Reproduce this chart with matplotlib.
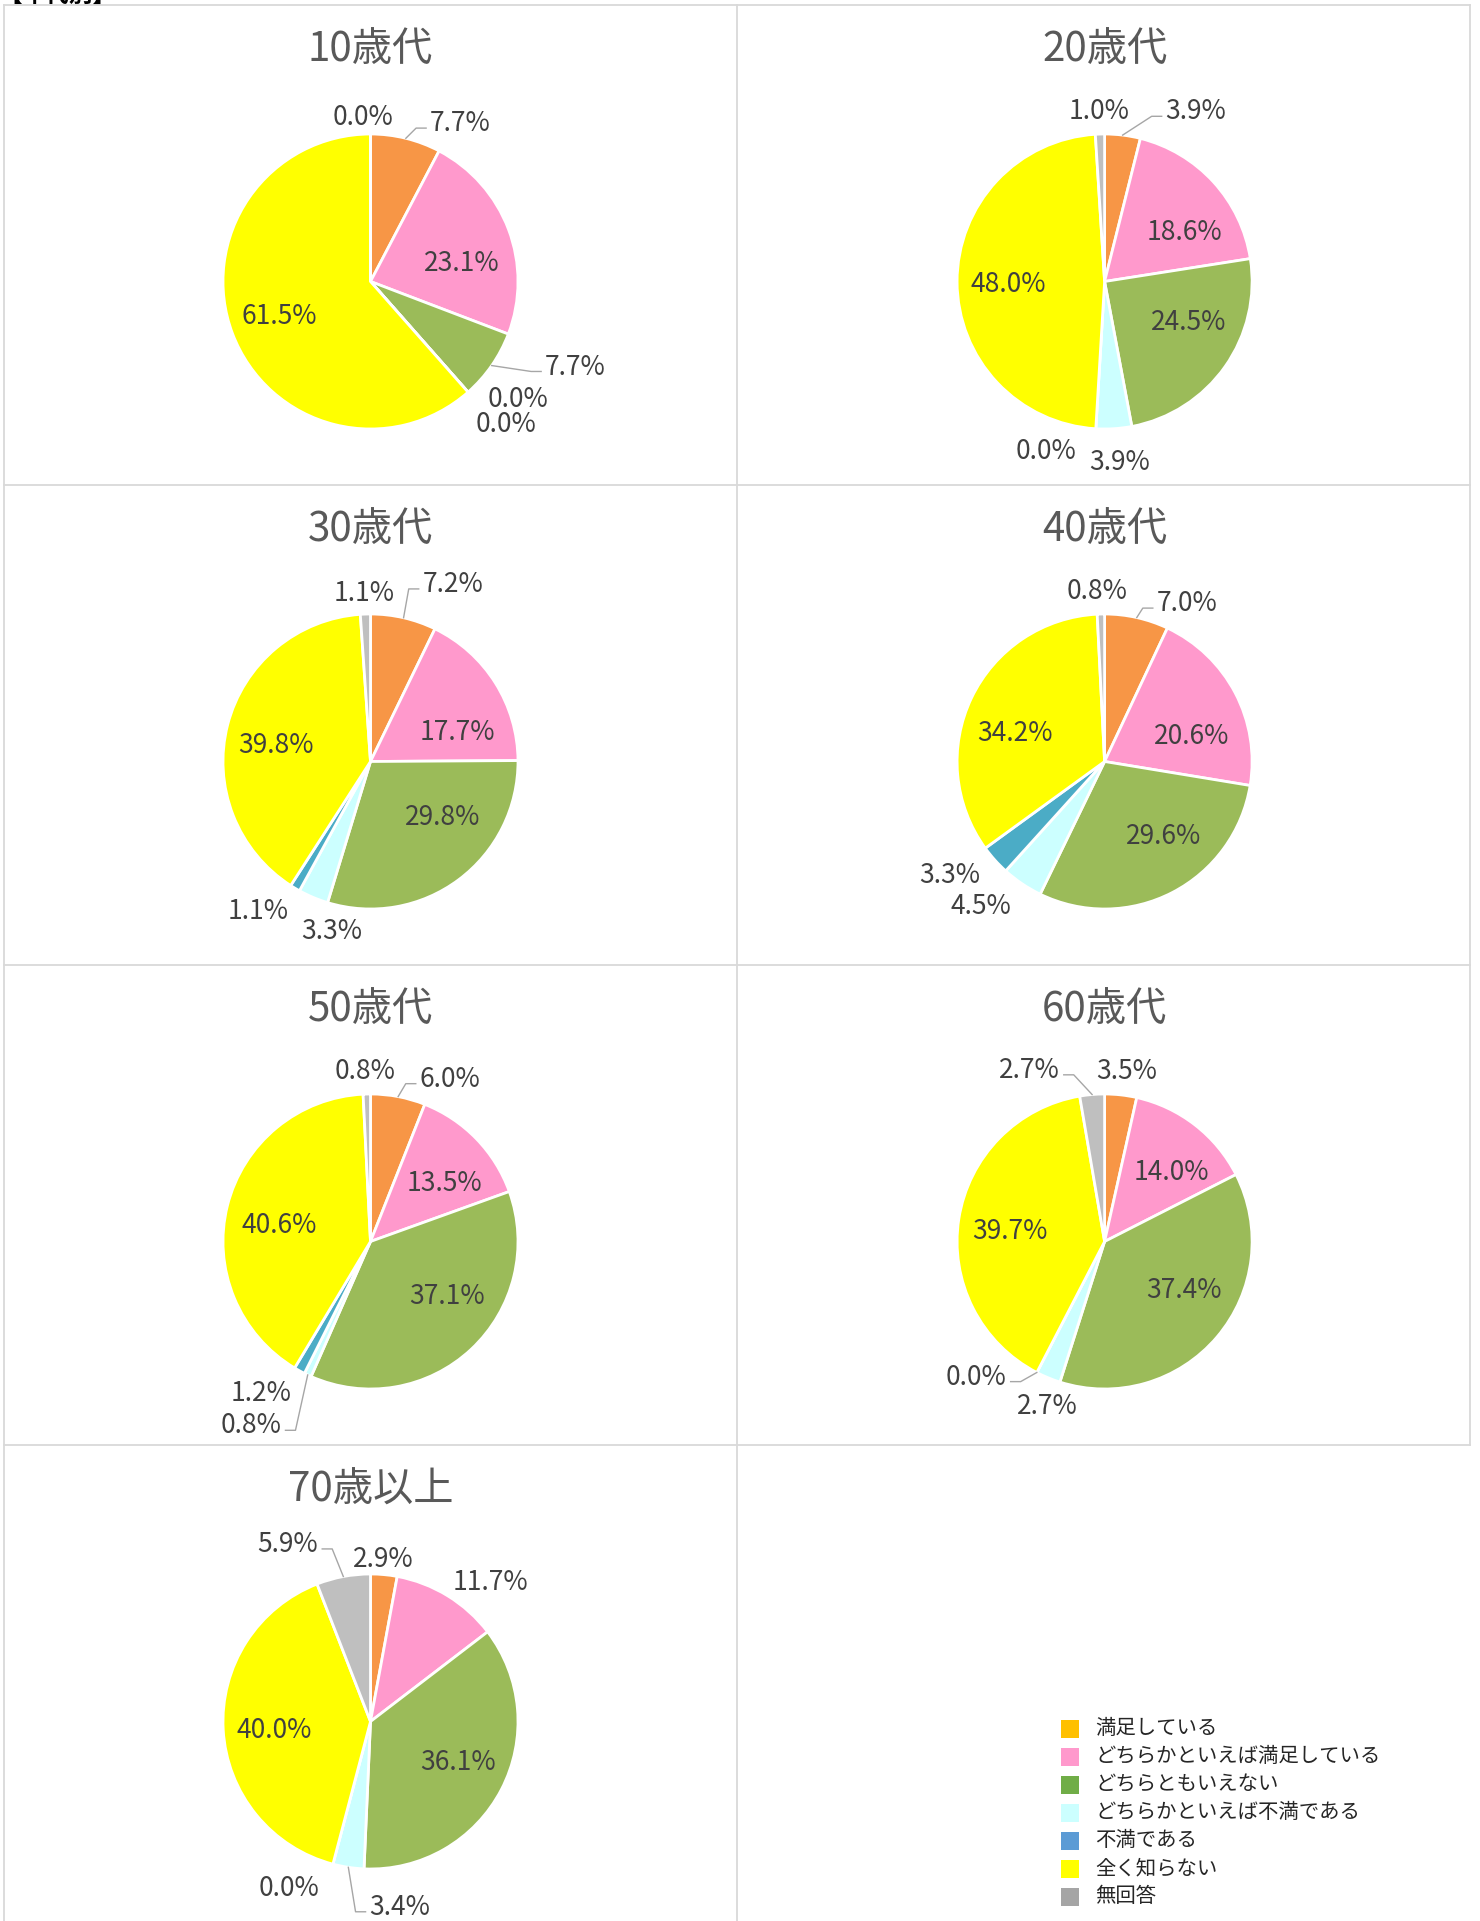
import matplotlib
matplotlib.use('Agg')
import matplotlib.pyplot as plt
from matplotlib.lines import Line2D
from matplotlib.patches import Rectangle
import numpy as np

plt.rcParams['font.family'] = ['Noto Sans CJK JP', 'DejaVu Sans']

# ---------------- data ----------------
categories = ['満足している', 'どちらかといえば満足している', 'どちらともいえない',
              'どちらかといえば不満である', '不満である', '全く知らない', '無回答']
age_groups = ['10歳代', '20歳代', '30歳代', '40歳代', '50歳代', '60歳代', '70歳以上']

v10 = [7.7, 23.1, 7.7, 0.0, 0.0, 61.5, 0.0]
v20 = [3.9, 18.6, 24.5, 3.9, 0.0, 48.0, 1.0]
v30 = [7.2, 17.7, 29.8, 3.3, 1.1, 39.8, 1.1]
v40 = [7.0, 20.6, 29.6, 4.5, 3.3, 34.2, 0.8]
v50 = [6.0, 13.5, 37.1, 0.8, 1.2, 40.6, 0.8]
v60 = [3.5, 14.0, 37.4, 2.7, 0.0, 39.7, 2.7]
v70 = [2.9, 11.7, 36.1, 3.4, 0.0, 40.0, 5.9]
values = [v10, v20, v30, v40, v50, v60, v70]

pie_colors = ['#F79646', '#FF99CC', '#9BBB59', '#CCFFFF', '#4BACC6', '#FFFF00', '#BFBFBF']
legend_colors = ['#FFC000', '#FF99CC', '#70AD47', '#CCFFFF', '#5B9BD5', '#FFFF00', '#A5A5A5']

# ---------------- layout (label centres in pie-radius units) ----------------
label_pos = {
    '10歳代': [(0.61, 1.07), (0.62, 0.12), (1.39, -0.58), (1.00, -0.80), (0.92, -0.97), (-0.62, -0.24), (-0.05, 1.11)],
    '20歳代': [(0.62, 1.15), (0.54, 0.33), (0.57, -0.28), (0.10, -1.23), (-0.40, -1.15), (-0.65, -0.02), (-0.04, 1.15)],
    '30歳代': [(0.56, 1.20), (0.59, 0.20), (0.49, -0.38), (-0.26, -1.15), (-0.76, -1.02), (-0.64, 0.11), (-0.04, 1.14)],
    '40歳代': [(0.56, 1.07), (0.59, 0.17), (0.40, -0.51), (-0.84, -0.98), (-1.05, -0.77), (-0.61, 0.19), (-0.05, 1.15)],
    '50歳代': [(0.54, 1.10), (0.50, 0.39), (0.52, -0.37), (-0.81, -1.25), (-0.74, -1.03), (-0.62, 0.11), (-0.04, 1.15)],
    '60歳代': [(0.15, 1.15), (0.45, 0.47), (0.54, -0.33), (-0.39, -1.12), (-0.87, -0.92), (-0.64, 0.07), (-0.51, 1.16)],
    '70歳以上': [(0.09, 1.10), (0.81, 0.94), (0.59, -0.28), (0.20, -1.26), (-0.55, -1.13), (-0.65, -0.06), (-0.56, 1.20)],
}
leaders = {
    '10歳代': {0: 'L', 2: 'L'},
    '20歳代': {0: 'L'},
    '30歳代': {0: 'L'},
    '40歳代': {0: 'L'},
    '50歳代': {0: 'L', 3: 'R'},
    '60歳代': {6: 'R', 4: 'R'},
    '70歳以上': {6: 'R', 3: 'L'},
}

W, H, DPI = 1480, 1921, 100
R = 147.5                     # pie radius in px
col_x = [370.5, 1104.6]       # pie centres (px from left)
panel_top = [5, 485, 965, 1445]
pie_dy = 276.5                # pie centre below panel top
EXT = 1.6

fig = plt.figure(figsize=(W / DPI, H / DPI), dpi=DPI)
fig.patch.set_facecolor('white')


def fx(px):
    return px / W


def fy(py_top):
    return 1 - py_top / H


# panel borders
bc = '#D9D9D9'
blw = 1.3
xl, xm, xr = 4, 737, 1470
for y in panel_top:
    fig.add_artist(Line2D([fx(xl), fx(xr)], [fy(y), fy(y)], color=bc, lw=blw))
for x in (xl, xm, xr):
    fig.add_artist(Line2D([fx(x), fx(x)], [fy(5), fy(1445)], color=bc, lw=blw))
for x in (xl, xm):
    fig.add_artist(Line2D([fx(x), fx(x)], [fy(1445), fy(H + 5)], color=bc, lw=blw))

# clipped heading at very top
fig.text(fx(-2), fy(2), '【年代別】', fontsize=17, fontweight='bold', color='black',
         ha='left', va='baseline')

axes_info = []
for i, (name, vals) in enumerate(zip(age_groups, values)):
    row, col = divmod(i, 2)
    cx = col_x[col]
    cy = panel_top[row] + pie_dy
    ax = fig.add_axes([fx(cx - EXT * R), fy(cy + EXT * R), 2 * EXT * R / W, 2 * EXT * R / H])
    ax.pie(vals, colors=pie_colors, startangle=90, counterclock=False, radius=1.0,
           wedgeprops=dict(edgecolor='white', linewidth=2.0))
    ax.set_xlim(-EXT, EXT)
    ax.set_ylim(-EXT, EXT)
    ax.set_aspect('equal')
    ax.axis('off')
    fig.text(fx(cx), fy(panel_top[row] + 45), name, fontsize=29, color='#595959',
             ha='center', va='center')
    texts = []
    for k, v in enumerate(vals):
        lx, ly = label_pos[name][k]
        t = ax.text(lx, ly, f'{v:.1f}%', fontsize=19, color='#404040',
                    ha='center', va='center', clip_on=False)
        texts.append(t)
    axes_info.append((ax, name, vals, texts))

# legend
leg_x, leg_y0, leg_dy, sq = 1061, 1720, 28, 18
for k, (lab, c) in enumerate(zip(categories, legend_colors)):
    y = leg_y0 + k * leg_dy
    fig.add_artist(Rectangle((fx(leg_x), fy(y + sq)), sq / W, sq / H, transform=fig.transFigure,
                             facecolor=c, edgecolor='none'))
    fig.text(fx(1095), fy(y + sq / 2), lab, fontsize=14.7, color='#262626', ha='left', va='center')

# leader lines
fig.canvas.draw()
renderer = fig.canvas.get_renderer()
for ax, name, vals, texts in axes_info:
    total = float(sum(vals))
    cum = np.cumsum([0] + list(vals))
    inv = ax.transData.inverted()
    for k, side in leaders[name].items():
        theta = 2 * np.pi * (cum[k] + vals[k] / 2) / total
        ex, ey = np.sin(theta), np.cos(theta)
        bb = texts[k].get_window_extent(renderer)
        (x0, y0), (x1, y1) = inv.transform([[bb.x0, bb.y0], [bb.x1, bb.y1]])
        yc = (y0 + y1) / 2 - 0.03
        gap, h = 4 / R, 10 / R
        if side == 'L':
            xs = [x0 - gap, x0 - gap - h, ex * 1.0]
        else:
            xs = [x1 + gap, x1 + gap + h, ex * 1.0]
        ys = [yc, yc, ey * 1.0]
        ax.plot(xs, ys, color='#A6A6A6', lw=1.0, clip_on=False, zorder=5)

fig.savefig('out.png', dpi=DPI, facecolor='white')
